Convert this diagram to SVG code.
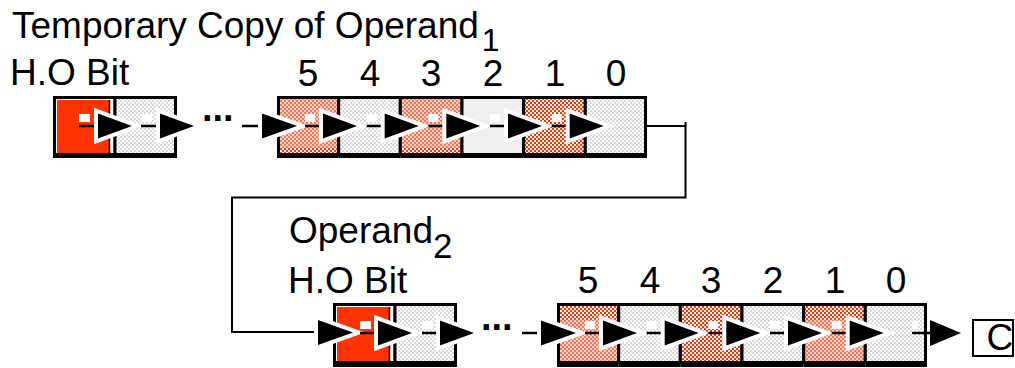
<svg xmlns="http://www.w3.org/2000/svg" width="1015" height="368" viewBox="0 0 1015 368">
<defs>
<pattern id="pHeavy" width="4" height="4" patternUnits="userSpaceOnUse"><rect width="4" height="4" fill="#fff"/><rect width="2" height="2" fill="#ff3300"/><rect x="2" y="2" width="2" height="2" fill="#ff3300"/></pattern>
<pattern id="pLight" width="4" height="4" patternUnits="userSpaceOnUse"><rect width="4" height="4" fill="#fcd2c6"/><rect width="2" height="2" fill="#f7765a"/><rect x="2" y="2" width="2" height="2" fill="#f7765a"/></pattern>
<pattern id="pGray" width="4" height="4" patternUnits="userSpaceOnUse"><rect width="4" height="4" fill="#fff"/><rect width="2" height="2" fill="#dadada"/><rect x="2" y="2" width="2" height="2" fill="#dadada"/></pattern>
</defs>
<style>
text{font-family:"Liberation Sans",Arial,sans-serif;font-size:37px;fill:#000}
.frame{fill:none;stroke:#000;stroke-width:3}
.bar{fill:#000}
.ln{stroke:#000;stroke-width:2.5;fill:none}
.wire{stroke:#000;stroke-width:2;fill:none}
.head{fill:#000;stroke:#fff;stroke-width:8;paint-order:stroke;stroke-linejoin:miter;stroke-miterlimit:10}
.plain{fill:#000}
.sq{fill:#fff}
.dots{font-weight:bold;font-size:38px}
.num{text-anchor:middle}
</style>

<g id="labels">
<text x="12" y="38">Temporary Copy of Operand<tspan dx="3" dy="13" font-size="32">1</tspan></text>
<text x="10" y="85">H.O Bit</text>
<text class="num" x="308" y="86">5</text>
<text class="num" x="370" y="86">4</text>
<text class="num" x="431" y="86">3</text>
<text class="num" x="493" y="86">2</text>
<text class="num" x="555" y="86">1</text>
<text class="num" x="616" y="86">0</text>
<text x="289" y="243">Operand<tspan dy="15" font-size="35">2</tspan></text>
<text x="288" y="293">H.O Bit</text>
<text class="num" x="588" y="293">5</text>
<text class="num" x="650" y="293">4</text>
<text class="num" x="711" y="293">3</text>
<text class="num" x="773" y="293">2</text>
<text class="num" x="835" y="293">1</text>
<text class="num" x="896" y="293">0</text>
<text class="dots" x="202" y="121">...</text>
<text class="dots" x="481" y="330">...</text>
</g>

<!-- top row -->
<g id="top-ho">
<rect x="53" y="97.5" width="62" height="57" fill="#fff"/>
<rect x="57" y="100" width="52" height="53" fill="#ff3300"/>
<line x1="109.5" y1="100" x2="109.5" y2="153" stroke="#000" stroke-width="1.5"/>
<rect class="frame" x="54.5" y="97.5" width="60.5" height="57"/>
<rect class="bar" x="53" y="153" width="62" height="5"/>
</g>
<g id="top-b1">
<rect x="115" y="97.5" width="62" height="57" fill="url(#pGray)"/>
<rect class="frame" x="115" y="97.5" width="60.5" height="57"/>
<rect class="bar" x="113.5" y="153" width="63.5" height="5"/>
</g>
<g id="top-5">
<rect x="277" y="97.5" width="61.7" height="57" fill="url(#pLight)"/>
<rect x="277" y="148" width="61.7" height="5" fill="url(#pHeavy)"/>
<rect class="frame" x="278.5" y="97.5" width="60.2" height="57"/>
<rect class="bar" x="277" y="153" width="61.7" height="5"/>
</g>
<g id="top-4">
<rect x="338.7" y="97.5" width="61.6" height="57" fill="url(#pGray)"/>
<rect class="frame" x="338.7" y="97.5" width="61.6" height="57"/>
<rect class="bar" x="338.7" y="153" width="61.6" height="5"/>
</g>
<g id="top-3">
<rect x="400.3" y="97.5" width="61.7" height="57" fill="url(#pLight)"/>
<rect x="400.3" y="148" width="61.7" height="5" fill="url(#pHeavy)"/>
<rect class="frame" x="400.3" y="97.5" width="61.7" height="57"/>
<rect class="bar" x="400.3" y="153" width="61.7" height="5"/>
</g>
<g id="top-2">
<rect x="462" y="97.5" width="61.7" height="57" fill="#efefef"/>
<rect class="frame" x="462" y="97.5" width="61.7" height="57"/>
<rect class="bar" x="462" y="153" width="61.7" height="5"/>
</g>
<g id="top-1">
<rect x="523.7" y="97.5" width="61.6" height="57" fill="url(#pHeavy)"/>
<rect class="frame" x="523.7" y="97.5" width="61.6" height="57"/>
<rect class="bar" x="523.7" y="153" width="61.6" height="5"/>
</g>
<g id="top-0">
<rect x="585.3" y="97.5" width="61.7" height="57" fill="url(#pGray)"/>
<rect class="frame" x="585.3" y="97.5" width="60.2" height="57"/>
<rect class="bar" x="585.3" y="153" width="61.7" height="5"/>
</g>

<!-- bottom row -->
<g id="bot-ho">
<rect x="333" y="304.5" width="62" height="58" fill="#fff"/>
<rect x="337" y="307" width="52" height="54" fill="#ff3300"/>
<line x1="389.5" y1="307" x2="389.5" y2="361" stroke="#000" stroke-width="1.5"/>
<rect class="frame" x="334.5" y="304.5" width="60.5" height="58"/>
<rect class="bar" x="333" y="361" width="62" height="6"/>
</g>
<g id="bot-b1">
<rect x="395" y="304.5" width="62" height="58" fill="url(#pGray)"/>
<rect class="frame" x="395" y="304.5" width="60.5" height="58"/>
<rect class="bar" x="393.5" y="361" width="63.5" height="6"/>
</g>
<g id="bot-5">
<rect x="557" y="304.5" width="61.7" height="58" fill="url(#pLight)"/>
<rect x="557" y="304.5" width="61.7" height="15" fill="url(#pHeavy)"/>
<rect class="frame" x="558.5" y="304.5" width="60.2" height="58"/>
<rect class="bar" x="557" y="361" width="61.7" height="6"/>
</g>
<g id="bot-4">
<rect x="618.7" y="304.5" width="61.6" height="58" fill="url(#pGray)"/>
<rect class="frame" x="618.7" y="304.5" width="61.6" height="58"/>
<rect class="bar" x="618.7" y="361" width="61.6" height="6"/>
</g>
<g id="bot-3">
<rect x="680.3" y="304.5" width="61.7" height="58" fill="url(#pHeavy)"/>
<rect class="frame" x="680.3" y="304.5" width="61.7" height="58"/>
<rect class="bar" x="680.3" y="361" width="61.7" height="6"/>
</g>
<g id="bot-2">
<rect x="742" y="304.5" width="61.7" height="58" fill="url(#pGray)"/>
<rect class="frame" x="742" y="304.5" width="61.7" height="58"/>
<rect class="bar" x="742" y="361" width="61.7" height="6"/>
</g>
<g id="bot-1">
<rect x="803.7" y="304.5" width="61.6" height="58" fill="url(#pLight)"/>
<rect x="803.7" y="304.5" width="61.6" height="15" fill="url(#pHeavy)"/>
<rect class="frame" x="803.7" y="304.5" width="61.6" height="58"/>
<rect class="bar" x="803.7" y="361" width="61.6" height="6"/>
</g>
<g id="bot-0">
<rect x="865.3" y="304.5" width="61.7" height="58" fill="url(#pGray)"/>
<rect class="frame" x="865.3" y="304.5" width="60.2" height="58"/>
<rect class="bar" x="865.3" y="361" width="61.7" height="6"/>
</g>

<g id="carry">
<rect x="973" y="320" width="40" height="36" fill="#fff" stroke="#000" stroke-width="2"/>
<text x="986.5" y="350" font-size="34">C</text>
</g>

<g id="connectors">
<!-- top row arrows -->
<rect class="sq" x="79" y="114" width="11" height="8"/>
<line class="ln" x1="79" y1="126" x2="98" y2="126"/>
<polygon class="head" points="98,113.5 132,126 98,138.5"/>
<rect class="sq" x="141" y="114" width="11" height="8"/>
<line class="ln" x1="141" y1="126" x2="160" y2="126"/>
<polygon class="head" points="160,113.5 194,126 160,138.5"/>
<line class="ln" x1="242" y1="126" x2="262" y2="126"/>
<polygon class="head" points="262,113.5 297,126 262,138.5"/>
<rect class="sq" x="305" y="114" width="10" height="8"/>
<line class="ln" x1="305" y1="126" x2="323" y2="126"/>
<polygon class="head" points="323,113.5 357,126 323,138.5"/>
<rect class="sq" x="366.7" y="114" width="10" height="8"/>
<line class="ln" x1="366.7" y1="126" x2="384.7" y2="126"/>
<polygon class="head" points="384.7,113.5 418.7,126 384.7,138.5"/>
<rect class="sq" x="428.3" y="114" width="10" height="8"/>
<line class="ln" x1="428.3" y1="126" x2="446.3" y2="126"/>
<polygon class="head" points="446.3,113.5 480.3,126 446.3,138.5"/>
<rect class="sq" x="490" y="114" width="10" height="8"/>
<line class="ln" x1="490" y1="126" x2="508" y2="126"/>
<polygon class="head" points="508,113.5 542,126 508,138.5"/>
<rect class="sq" x="551.7" y="114" width="10" height="8"/>
<line class="ln" x1="551.7" y1="126" x2="569.7" y2="126"/>
<polygon class="head" points="569.7,113.5 603.7,126 569.7,138.5"/>
<!-- wrap-around wire -->
<polyline class="wire" points="645,126 685.5,126 685.5,197.5 232,197.5 232,332 318,332"/>
<line class="wire" x1="685.5" y1="122" x2="685.5" y2="127"/>
<polygon class="head" points="318,320 353,332.5 318,345"/>
<!-- bottom row arrows -->
<rect class="sq" x="360" y="321" width="11" height="8"/>
<line class="ln" x1="360" y1="333" x2="378" y2="333"/>
<polygon class="head" points="378,320.5 412,333 378,345.5"/>
<rect class="sq" x="422" y="321" width="11" height="8"/>
<line class="ln" x1="422" y1="333" x2="440" y2="333"/>
<polygon class="head" points="440,320.5 474,333 440,345.5"/>
<line class="ln" x1="522" y1="333" x2="541" y2="333"/>
<polygon class="head" points="541,320.5 576,333 541,345.5"/>
<rect class="sq" x="585" y="321" width="10" height="8"/>
<line class="ln" x1="585" y1="333" x2="603" y2="333"/>
<polygon class="head" points="603,320.5 637,333 603,345.5"/>
<rect class="sq" x="646.7" y="321" width="10" height="8"/>
<line class="ln" x1="646.7" y1="333" x2="664.7" y2="333"/>
<polygon class="head" points="664.7,320.5 698.7,333 664.7,345.5"/>
<rect class="sq" x="708.3" y="321" width="10" height="8"/>
<line class="ln" x1="708.3" y1="333" x2="726.3" y2="333"/>
<polygon class="head" points="726.3,320.5 760.3,333 726.3,345.5"/>
<rect class="sq" x="770" y="321" width="10" height="8"/>
<line class="ln" x1="770" y1="333" x2="788" y2="333"/>
<polygon class="head" points="788,320.5 822,333 788,345.5"/>
<rect class="sq" x="831.7" y="321" width="10" height="8"/>
<line class="ln" x1="831.7" y1="333" x2="849.7" y2="333"/>
<polygon class="head" points="849.7,320.5 883.7,333 849.7,345.5"/>
<rect class="sq" x="912" y="321" width="6" height="8"/>
<line class="ln" x1="912" y1="333" x2="930" y2="333"/>
<polygon class="plain" points="930,320 961,333 930,346"/>
</g>
</svg>
